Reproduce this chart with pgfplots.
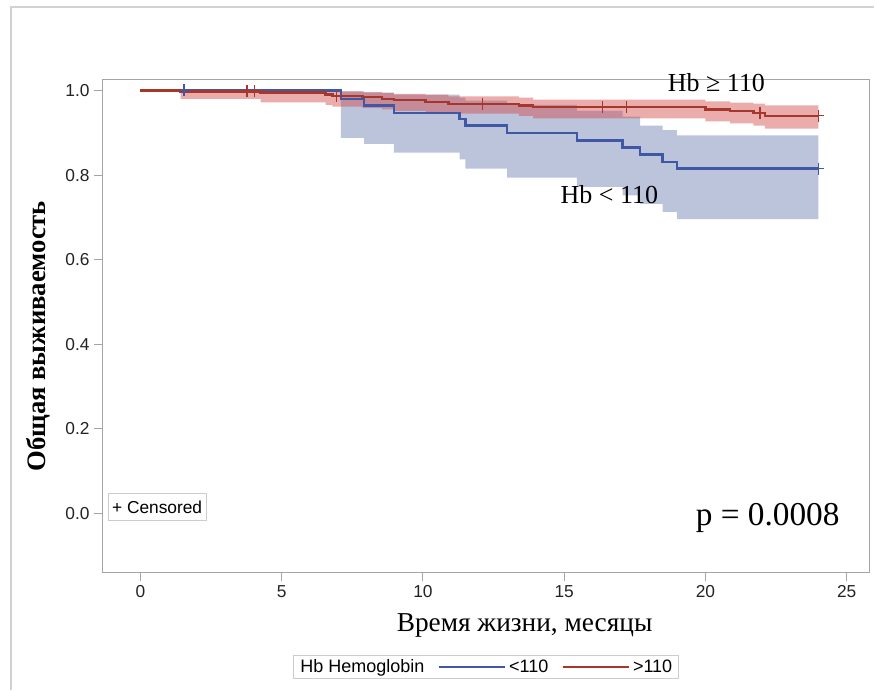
\documentclass[border=0pt]{standalone}
\usepackage{fontspec}
\setmainfont{Liberation Serif}
\setsansfont{Liberation Sans}
\usepackage{pgfplots}
\pgfplotsset{compat=1.18}
\usepgfplotslibrary{fillbetween}

\definecolor{kmblue}{RGB}{63,87,165}
\definecolor{kmred}{RGB}{165,55,45}
\definecolor{bandblue}{RGB}{188,196,220}
\definecolor{bandred}{RGB}{210,70,70}
\definecolor{framegray}{RGB}{165,165,165}
\definecolor{ticktext}{RGB}{35,35,35}

\begin{document}
\begin{tikzpicture}
\begin{axis}[
  at={(76.7pt,88.3pt)}, anchor=south west,
  scale only axis, width=575.8pt, height=370pt,
  xmin=-1.35, xmax=25.8, ymin=-0.14, ymax=1.025,
  clip=false,
  axis line style={framegray, line width=0.8pt},
  tick align=outside, major tick length=6pt,
  tick style={framegray, line width=0.8pt},
  xtick pos=bottom, ytick pos=left,
  xtick={0,5,10,15,20,25},
  ytick={0,0.2,0.4,0.6,0.8,1},
  /pgf/number format/assume math mode=true,
  ticklabel style={font=\fontsize{13}{15}\selectfont\sffamily, text=ticktext},
  yticklabel style={/pgf/number format/.cd, fixed, fixed zerofill, precision=1},
  xlabel={Время жизни, месяцы},
  xlabel style={at={(axis description cs:0.5506,-0.107)}, anchor=center,
    font=\fontsize{20.5}{24}\selectfont},
  ylabel={Общая выживаемость},
  ylabel style={at={(axis description cs:-0.083,0.48)}, anchor=center,
    font=\fontsize{20}{24}\selectfont\bfseries},
  legend style={at={(axis description cs:0.5007,-0.191)}, anchor=center,
    draw=black!20, line width=0.8pt, font=\fontsize{13.5}{15}\selectfont\sffamily,
    inner xsep=3pt, inner ysep=1pt,
    /tikz/every even column/.append style={column sep=8pt}},
  legend columns=3,
  legend image code/.code={\draw[#1] (0pt,0pt) -- (50pt,0pt);},
]

% confidence bands
\addplot[name path=bu, const plot, draw=none, forget plot] coordinates {
 (7.1,0.998) (7.92,0.995) (8.97,0.990) (11.3,0.983) (11.5,0.976) (12.98,0.966)
 (15.45,0.952) (17.07,0.938) (17.69,0.917) (18.48,0.906) (18.99,0.894) (24.0,0.894)};
\addplot[name path=bl, const plot, draw=none, forget plot] coordinates {
 (7.1,0.888) (7.92,0.874) (8.97,0.853) (11.3,0.837) (11.5,0.815) (12.98,0.794)
 (15.45,0.772) (17.07,0.752) (17.69,0.732) (18.48,0.713) (18.99,0.696) (24.0,0.696)};
\addplot[fill=bandblue, draw=none, forget plot] fill between[of=bu and bl];

\addplot[name path=ru, const plot, draw=none, forget plot] coordinates {
 (1.43,1.0) (4.26,1.0) (6.56,0.999) (6.8,0.998) (7.86,0.996) (8.56,0.994)
 (8.97,0.992) (10.1,0.990) (10.9,0.986) (13.4,0.983) (13.9,0.978) (20.0,0.974)
 (20.87,0.971) (21.7,0.969) (22.1,0.965) (24.0,0.965)};
\addplot[name path=rl, const plot, draw=none, forget plot] coordinates {
 (1.43,0.980) (4.26,0.972) (6.56,0.966) (6.8,0.962) (7.86,0.958) (8.56,0.955)
 (8.97,0.952) (10.1,0.949) (10.9,0.945) (13.4,0.940) (13.9,0.934) (20.0,0.927)
 (20.87,0.922) (21.7,0.917) (22.1,0.910) (24.0,0.910)};
\addplot[fill=bandred, fill opacity=0.45, draw=none, forget plot] fill between[of=ru and rl];

% survival curves
\addplot[kmblue, line width=1.9pt, const plot, forget plot] coordinates {
 (0,1.0) (7.1,0.980) (7.92,0.964) (8.97,0.947) (11.3,0.932) (11.5,0.917)
 (12.98,0.899) (15.45,0.882) (17.07,0.865) (17.69,0.848) (18.48,0.831)
 (18.99,0.815) (24.0,0.815)};
\addplot[kmred, line width=1.9pt, const plot, forget plot] coordinates {
 (0,1.0) (1.43,0.998) (4.26,0.995) (6.56,0.990) (6.8,0.987) (7.86,0.984)
 (8.56,0.980) (8.97,0.977) (10.1,0.973) (10.9,0.968) (13.4,0.965) (13.9,0.961)
 (20.0,0.955) (20.87,0.951) (21.7,0.947) (22.1,0.940) (24.0,0.940)};

% censored observations
\addplot[only marks, mark=+, mark size=4.5pt, kmblue, line width=1pt, forget plot]
 coordinates {(1.55,1.0) (24.0,0.815)};
\addplot[only marks, mark=+, mark size=4.5pt, kmred, line width=1pt, forget plot]
 coordinates {(3.77,0.998) (4.05,0.998) (6.95,0.987) (12.1,0.968) (16.36,0.961)
 (17.2,0.961) (21.93,0.947) (24.0,0.940)};

% legend
\addlegendimage{empty legend}
\addlegendentry{Hb Hemoglobin\hspace{6pt}}
\addlegendimage{kmblue, line width=1.6pt}
\addlegendentry{<110}
\addlegendimage{kmred, line width=1.6pt}
\addlegendentry{>110}

% annotations
\node[font=\fontsize{19.5}{22}\selectfont] at (axis cs:20.39,1.018) {Hb ≥ 110};
\node[font=\fontsize{19.5}{22}\selectfont] at (axis cs:16.6,0.754) {Hb < 110};
\node[font=\fontsize{25}{28}\selectfont] at (axis cs:22.2,-0.010) {p = 0.0008};
\node[draw=black!20, line width=0.8pt, font=\fontsize{13}{15}\selectfont\sffamily,
  inner sep=3pt, minimum width=73pt, minimum height=20pt] at (axis cs:0.595,0.016) {+ Censored};
\end{axis}
% outer panel border
\draw[black!18, line width=1pt] (8.25pt,0) -- (8.25pt,513pt) -- (656.25pt,513pt);
\useasboundingbox (0,0) rectangle (656.25pt,518.25pt);
\end{tikzpicture}
\end{document}
